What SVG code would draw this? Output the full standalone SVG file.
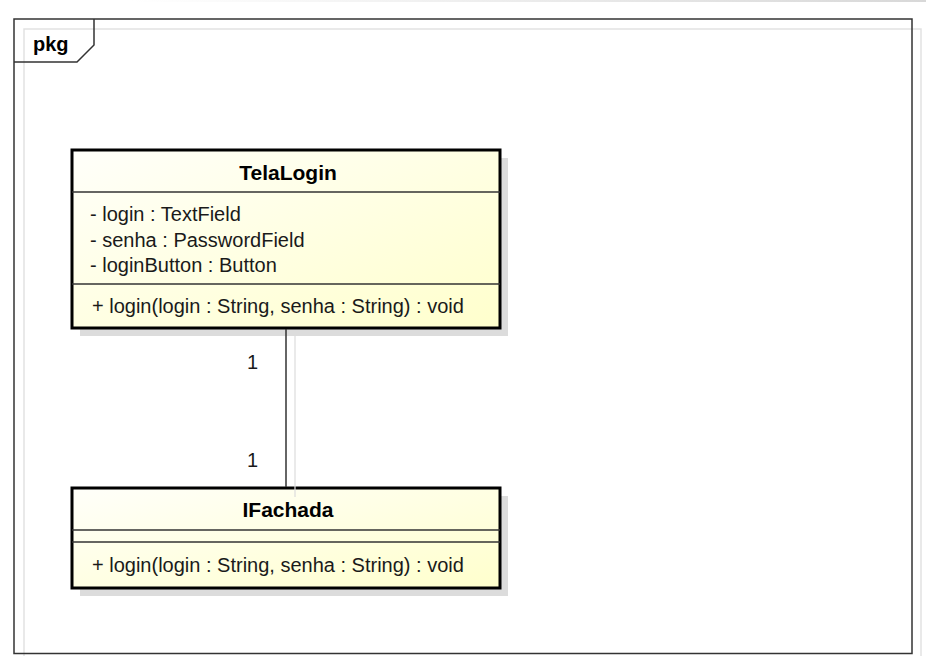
<svg xmlns="http://www.w3.org/2000/svg" width="926" height="656" viewBox="0 0 926 656">
<defs>
<linearGradient id="fillG" x1="0" y1="0" x2="1" y2="1">
<stop offset="0" stop-color="#FFFFFA"/>
<stop offset="1" stop-color="#FFFFCC"/>
</linearGradient>
<linearGradient id="topBar" x1="0" y1="0" x2="1" y2="0">
<stop offset="0" stop-color="#FFFFFF"/>
<stop offset="1" stop-color="#D8D8D8"/>
</linearGradient>
<style>
.t{font-family:"Liberation Sans",Arial,sans-serif;font-size:20px;fill:#1a1a1a}
.b{font-family:"Liberation Sans",Arial,sans-serif;font-size:21px;font-weight:bold;fill:#000}
.box{fill:url(#fillG);stroke:#000;stroke-width:3}
.sh{fill:#DCDCDC;stroke:none}
.sep{stroke:#333;stroke-width:1.5}
</style>
</defs>
<rect x="130" y="0" width="796" height="2" fill="url(#topBar)"/>
<g id="frame">
<rect x="24" y="29" width="897" height="640" fill="none" stroke="#E2E2E2" stroke-width="1.5"/>
<rect x="14" y="19" width="898" height="634.5" fill="none" stroke="#333" stroke-width="1.5"/>
<path d="M14 62 H77 L94 45 V19" fill="none" stroke="#333" stroke-width="1.5"/>
<text class="b" x="33" y="51" style="font-size:20px">pkg</text>
</g>
<g id="TelaLogin">
<rect class="sh" x="80" y="158" width="428" height="178"/>
<rect class="box" x="72" y="150" width="428" height="178"/>
<line class="sep" x1="72" y1="192" x2="500" y2="192"/>
<line class="sep" x1="72" y1="284" x2="500" y2="284"/>
<text class="b" x="288" y="180" text-anchor="middle">TelaLogin</text>
<text class="t" x="90" y="221">- login : TextField</text>
<text class="t" x="90" y="247">- senha : PasswordField</text>
<text class="t" x="90" y="272">- loginButton : Button</text>
<text class="t" x="92" y="313">+ login(login : String, senha : String) : void</text>
</g>
<g id="IFachada">
<rect class="sh" x="80" y="496" width="428" height="100"/>
<rect class="box" x="72" y="488" width="428" height="100"/>
<line class="sep" x1="72" y1="530" x2="500" y2="530"/>
<line class="sep" x1="72" y1="542" x2="500" y2="542"/>
<text class="b" x="288" y="517" text-anchor="middle">IFachada</text>
<text class="t" x="92" y="572">+ login(login : String, senha : String) : void</text>
</g>
<g id="connectors">
<line x1="295" y1="336" x2="295" y2="497" stroke="#DCDCDC" stroke-width="1.2"/>
<line x1="286" y1="329" x2="286" y2="487" stroke="#333" stroke-width="1.5"/>
<text class="t" x="247" y="369">1</text>
<text class="t" x="247" y="467">1</text>
</g>
</svg>
